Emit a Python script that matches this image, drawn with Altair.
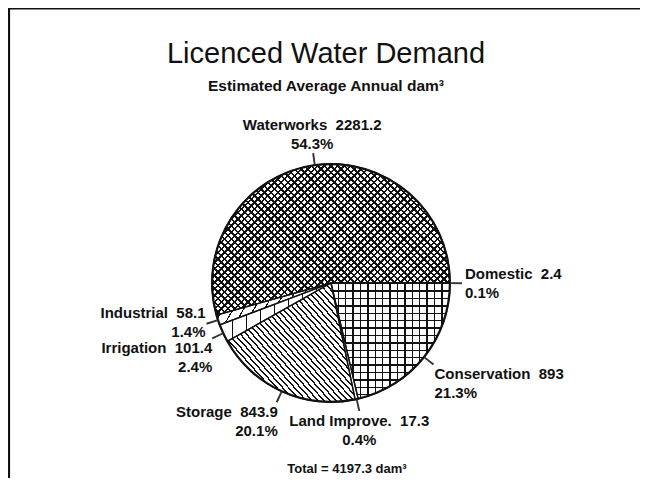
import math
import altair as alt
import pandas as pd

# ---------------- data ----------------
categories = ["Domestic", "Conservation", "Land Improve.", "Storage",
              "Irrigation", "Industrial", "Waterworks"]
values = [2.4, 893.0, 17.3, 843.9, 101.4, 58.1, 2281.2]
value_labels = ["2.4", "893", "17.3", "843.9", "101.4", "58.1", "2281.2"]
percent_labels = ["0.1%", "21.3%", "0.4%", "20.1%", "2.4%", "1.4%", "54.3%"]

title_text = "Licenced Water Demand"
subtitle_text = "Estimated Average Annual dam³"
total = round(sum(values), 1)
total_text = f"Total = {total} dam³"

NB = "\u00a0\u00a0"
df = pd.DataFrame({
    "cat": categories,
    "value": values,
    "order": list(range(len(categories))),
    "line1": [c + NB + v for c, v in zip(categories, value_labels)],
    "line2": percent_labels,
})

# ---------------- layout / style ----------------
W, H = 632, 470
CX, CY = 323, 275
R = 119
RL = 131
FONT = "Liberation Sans"
INK = "#111111"

theta_scale = alt.Scale(domain=[0, total],
                        range=[math.pi / 2, math.pi / 2 + 2 * math.pi])
center = dict(x=alt.value(CX), y=alt.value(CY))
hw = total * 0.0012


def base():
    return (alt.Chart(df)
            .transform_window(cum="sum(value)",
                              sort=[alt.SortField("order", order="ascending")],
                              frame=[None, 0])
            .transform_calculate(start="datum.cum - datum.value",
                                 mid="datum.cum - datum.value / 2",
                                 lo=f"datum.cum - datum.value / 2 - {hw}",
                                 hi=f"datum.cum - datum.value / 2 + {hw}"))


slice_enc = dict(theta=alt.Theta("start:Q", stack=None, scale=theta_scale),
                 theta2=alt.Theta2("cum"), **center)


# ---- hatch patterns made with hard-stop linear gradients ----
def wedge_bbox(a0, a1, r):
    pts = [(0.0, 0.0)]
    for a in (a0, a1):
        pts.append((r * math.sin(a), -r * math.cos(a)))
    k = math.ceil(a0 / (math.pi / 2))
    while k * math.pi / 2 < a1:
        a = k * math.pi / 2
        pts.append((r * math.sin(a), -r * math.cos(a)))
        k += 1
    xs, ys = zip(*pts)
    return max(xs) - min(xs), max(ys) - min(ys)


def stripes(w, h, ang, period, lw, color=INK):
    a = math.radians(ang)
    ux, uy = math.cos(a), math.sin(a)
    gx, gy = -uy / h, ux / w
    n = math.hypot(gx, gy)
    gx, gy = gx / n, gy / n
    pr = [(cx - 0.5) * gx + (cy - 0.5) * gy for cx in (0, 1) for cy in (0, 1)]
    tmin, tmax = min(pr), max(pr)
    L = tmax - tmin
    rate = math.hypot(gx / w, gy / h) / L
    dt = period * rate
    dl = lw * rate
    clear = "rgba(0,0,0,0)"
    stops = []
    s = -dt
    while s < 1:
        for off, col in ((s, color), (s + dl, color), (s + dl, clear), (s + dt, clear)):
            stops.append({"offset": round(min(1.0, max(0.0, off)), 5), "color": col})
        s += dt
    return {"gradient": "linear",
            "x1": round(0.5 + tmin * gx, 5), "y1": round(0.5 + tmin * gy, 5),
            "x2": round(0.5 + tmax * gx, 5), "y2": round(0.5 + tmax * gy, 5),
            "stops": stops}


# angle of each wedge, for the pattern's bounding box
angles = []
acc = 0.0
for v in values:
    a0 = math.pi / 2 + 2 * math.pi * acc / total
    acc += v
    a1 = math.pi / 2 + 2 * math.pi * acc / total
    angles.append((a0, a1))

patterns = {
    "Waterworks": [(45, 4.7, 1.7), (-45, 4.7, 1.7)],
    "Conservation": [(0, 7.4, 1.4), (90, 7.4, 1.4)],
    "Storage": [(48, 4.4, 1.4)],
    "Irrigation": [(90, 14.0, 1.3)],
    "Industrial": [(-60, 9.0, 1.2)],
}

layers = []

# frame (top and left edges of the page border)
frame_df = pd.DataFrame({"k": [0]})
layers.append(alt.Chart(frame_df).mark_rule(color=INK, strokeWidth=1.5)
              .encode(x=alt.value(1), x2=alt.value(W), y=alt.value(0.75)))
layers.append(alt.Chart(frame_df).mark_rule(color=INK, strokeWidth=2.2)
              .encode(x=alt.value(1), y=alt.value(0), y2=alt.value(H)))

# white wedges
layers.append(base().mark_arc(radius=R, color="white").encode(**slice_enc))

# hatching
for cat, specs in patterns.items():
    i = categories.index(cat)
    w, h = wedge_bbox(angles[i][0], angles[i][1], R)
    for ang, period, lw in specs:
        layers.append(base().transform_filter(alt.datum.order == i)
                      .mark_arc(radius=R, fill=stripes(w, h, ang, period, lw))
                      .encode(**slice_enc))

# wedge outlines and rim
layers.append(base().mark_arc(radius=R, filled=False, color=INK, strokeWidth=1.3)
              .encode(**slice_enc))
layers.append(base().mark_arc(radius=R + 1, radius2=R - 1.2, color=INK)
              .encode(**slice_enc))

# leader lines
layers.append(base().mark_arc(radius=RL, radius2=R, color="#333333")
              .encode(theta=alt.Theta("lo:Q", stack=None, scale=theta_scale),
                      theta2=alt.Theta2("hi"), **center))

# labels: (align, dx, dy of first line)
label_pos = {
    "Waterworks": ("center", -1, -35),
    "Domestic": ("left", 3, -16),
    "Conservation": ("left", 1, 2),
    "Land Improve.": ("center", 0, 3),
    "Storage": ("right", 1, 3),
    "Irrigation": ("right", 0, 3),
    "Industrial": ("right", -1, -18),
}
LH = 19
for cat, (align, dx, dy) in label_pos.items():
    i = categories.index(cat)
    for field, off in (("line1", 0), ("line2", LH)):
        layers.append(base().transform_filter(alt.datum.order == i)
                      .mark_text(radius=RL, align=align, baseline="top",
                                 dx=dx, dy=dy + off, font=FONT, fontSize=15,
                                 fontWeight="bold", color=INK)
                      .encode(theta=alt.Theta("mid:Q", stack=None, scale=theta_scale),
                              text=alt.Text(f"{field}:N"), **center))

# titles and total
layers.append(alt.Chart(pd.DataFrame({"t": [title_text]}))
              .mark_text(font=FONT, fontSize=29, color=INK, align="center",
                         baseline="alphabetic")
              .encode(x=alt.value(318), y=alt.value(55), text="t:N"))
layers.append(alt.Chart(pd.DataFrame({"t": [subtitle_text]}))
              .mark_text(font=FONT, fontSize=15.5, fontWeight="bold", color=INK,
                         align="center", baseline="alphabetic")
              .encode(x=alt.value(318), y=alt.value(83), text="t:N"))
layers.append(alt.Chart(pd.DataFrame({"t": [total_text]}))
              .mark_text(font=FONT, fontSize=13, fontWeight="bold", color=INK,
                         align="center", baseline="middle")
              .encode(x=alt.value(339), y=alt.value(461), text="t:N"))

chart = (alt.layer(*layers)
         .properties(width=W, height=H, padding=0,
                     autosize=alt.AutoSizeParams(type="none"),
                     background="white")
         .configure_view(stroke=None))

chart.save("out.html", embed_options={"renderer": "svg", "actions": False})
